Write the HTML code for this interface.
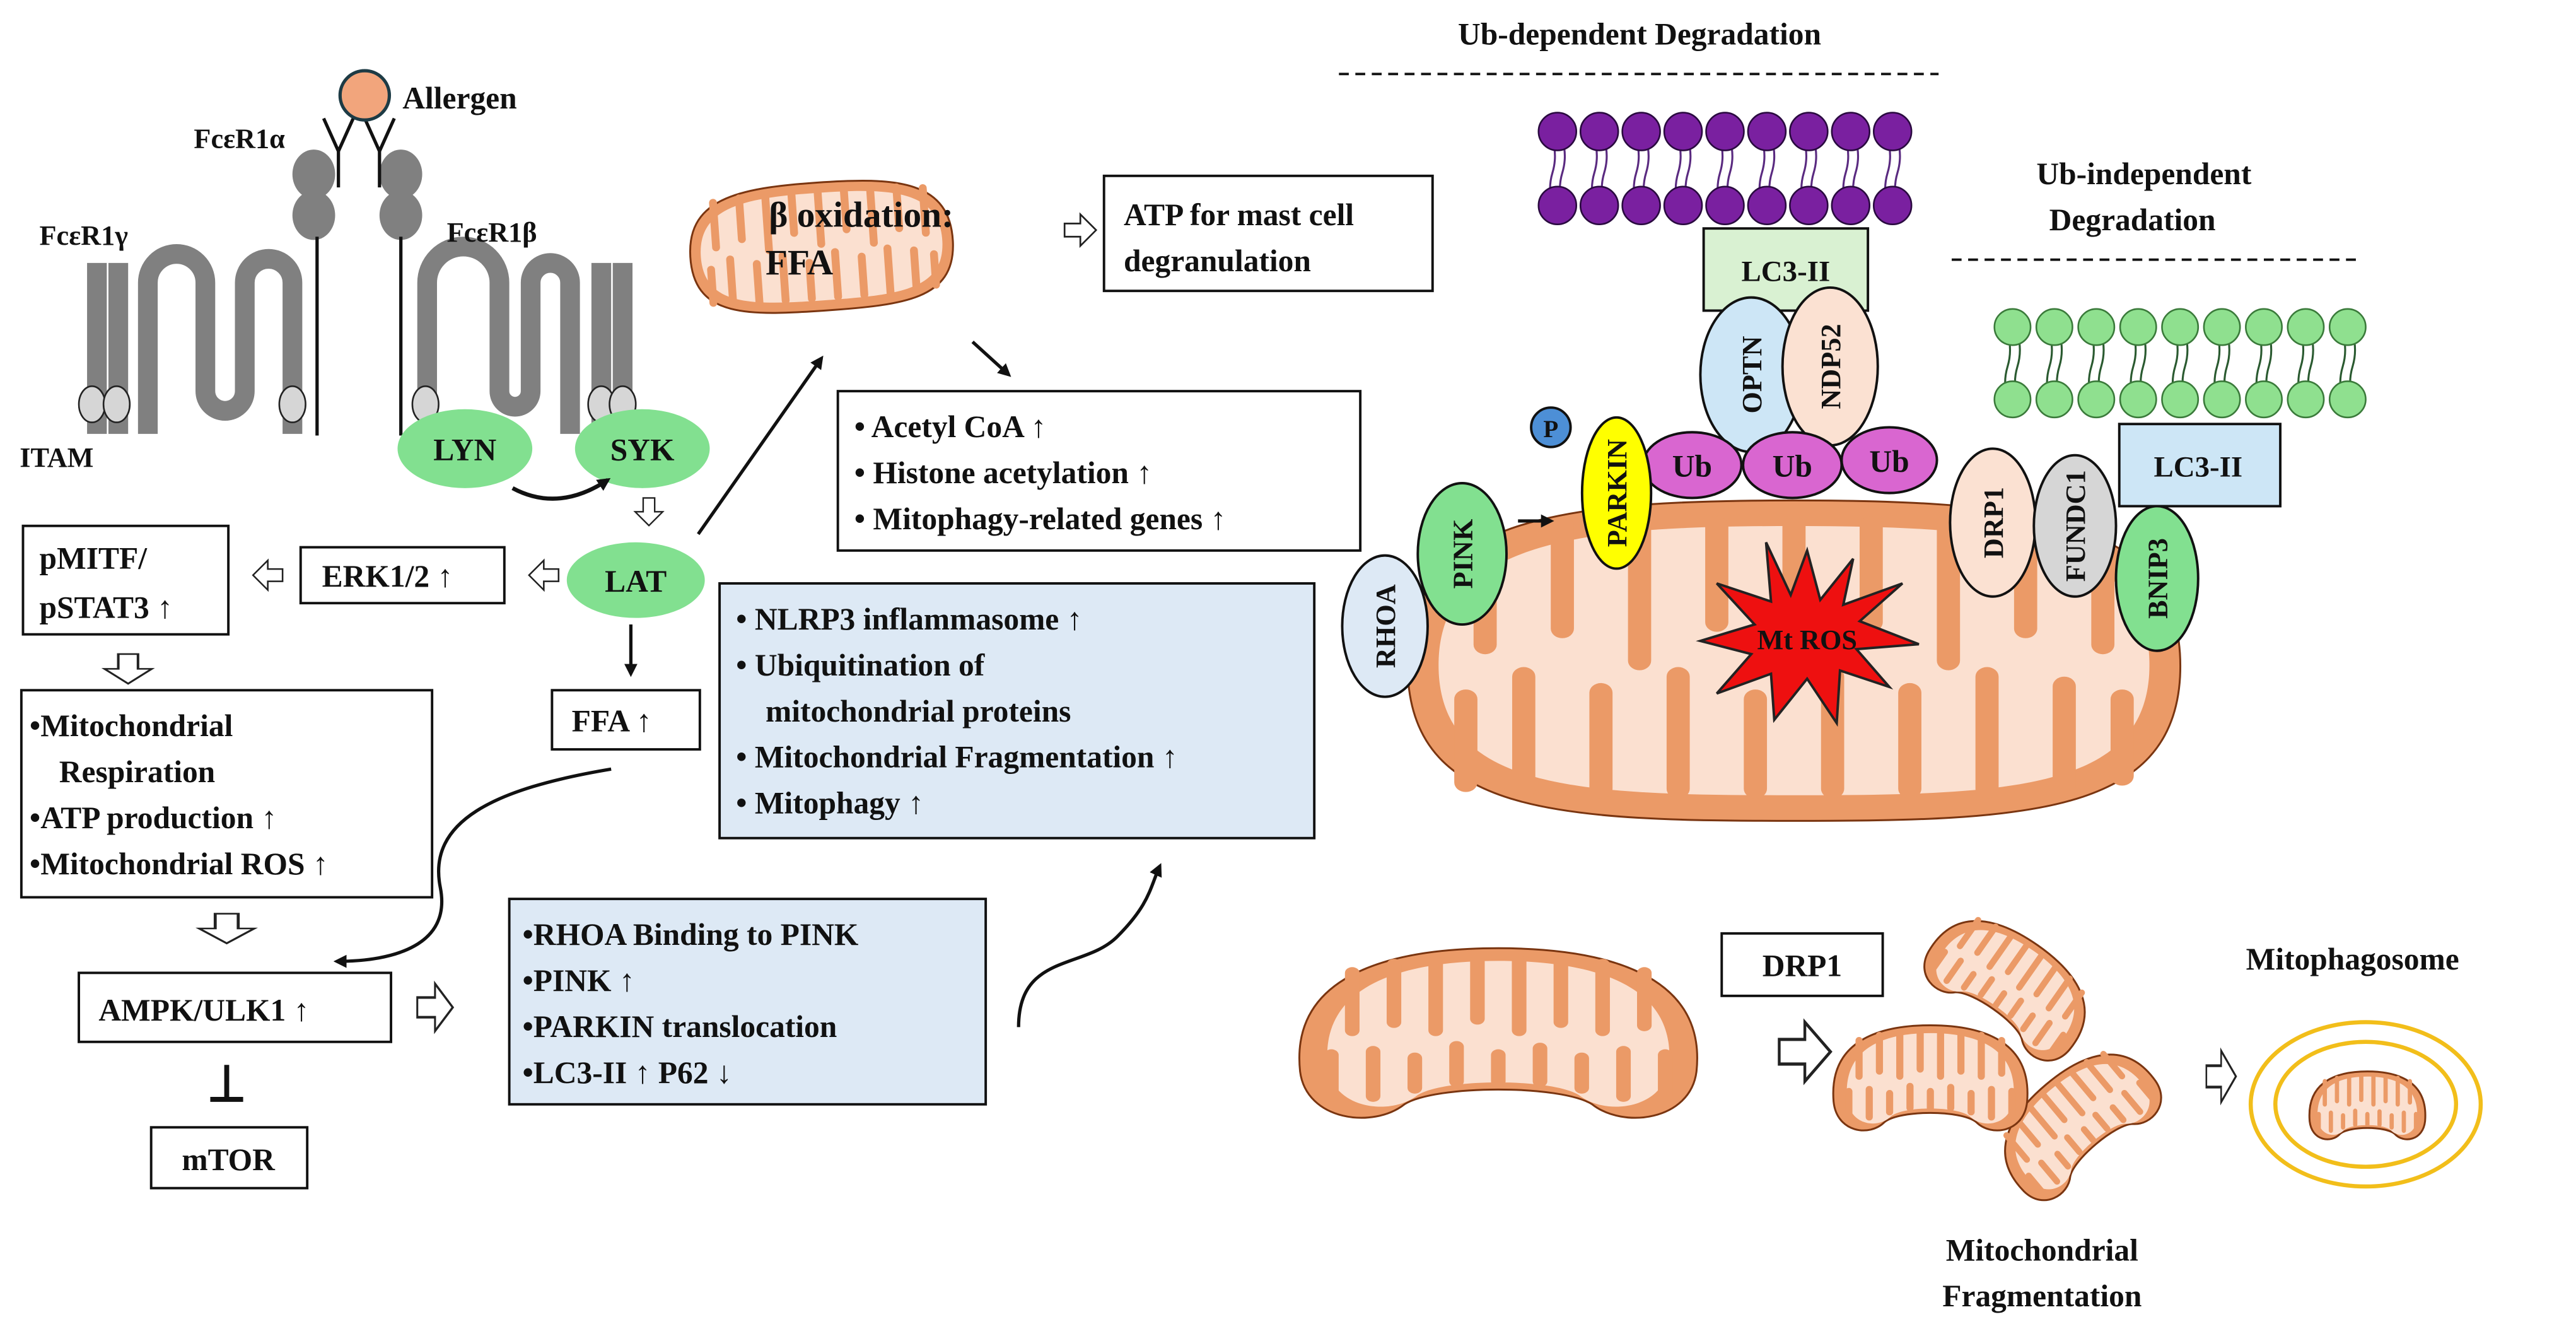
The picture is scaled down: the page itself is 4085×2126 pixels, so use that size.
<!DOCTYPE html>
<html><head><meta charset="utf-8"><style>
html,body{margin:0;padding:0;background:#fff}
svg{display:block}
text{font-family:"Liberation Serif",serif;font-weight:bold;fill:#111}
</style></head><body>
<svg width="4085" height="2126" viewBox="0 0 1568 816" xmlns="http://www.w3.org/2000/svg">
<defs>
<marker id="ah" markerWidth="8" markerHeight="8" refX="6" refY="4" orient="auto" markerUnits="userSpaceOnUse"><path d="M0,0 L8,4 L0,8 Z" fill="#111"/></marker>
<g id="kid">
<path d="M-95,20 C-100,-40 -50,-55 0,-55 C50,-55 100,-40 95,20 C92,50 60,55 45,40 C30,28 -30,28 -45,40 C-60,55 -92,50 -95,20 Z" fill="#eb9a67" stroke="#7a3510" stroke-width="3" vector-effect="non-scaling-stroke"/>
<path transform="scale(0.86)" d="M-95,20 C-100,-40 -50,-55 0,-55 C50,-55 100,-40 95,20 C92,50 60,55 45,40 C30,28 -30,28 -45,40 C-60,55 -92,50 -95,20 Z" fill="#fbe0d0"/>
<g stroke="#eb9a67" stroke-width="7" stroke-linecap="round">
<path d="M-70,-40V-5M-50,-45V-10M-30,-47V-5M-10,-47V-12M10,-47V-5M30,-47V-10M50,-45V-5M70,-40V-8"/>
<path d="M-80,35V10M-60,35V8M-40,30V12M-20,26V5M0,26V10M20,26V6M40,30V12M60,35V8M80,35V10"/>
</g>
</g>
<g id="oval">
<path d="M-100,5 C-102,-45 -60,-50 0,-50 C60,-50 102,-45 100,5 C98,48 60,50 0,50 C-60,50 -98,48 -100,5 Z" fill="#eb9a67" stroke="#7a3510" stroke-width="3" vector-effect="non-scaling-stroke"/>
<path transform="scale(0.92,0.84)" d="M-100,5 C-102,-45 -60,-50 0,-50 C60,-50 102,-45 100,5 C98,48 60,50 0,50 C-60,50 -98,48 -100,5 Z" fill="#fbe0d0"/>
<g stroke="#eb9a67" stroke-width="6" stroke-linecap="round">
<path d="M-80,-40V-5M-60,-42V-10M-40,-42V0M-20,-42V-12M0,-42V-2M20,-42V-12M40,-42V0M60,-42V-10M80,-40V-5"/>
<path d="M-85,38V12M-70,40V5M-50,40V10M-30,40V5M-10,40V12M10,40V5M30,40V10M50,40V5M70,40V8M85,36V12"/>
</g>
</g>
<polygon id="har" points="0,-5 12,-5 12,-12 24,0 12,12 12,5 0,5" fill="#fff" stroke="#222" stroke-width="1.3"/>
</defs>

<!-- Receptor -->
<g stroke="#808080" stroke-width="12" fill="none">
<path d="M59,160V264M72,160V264"/>
<path d="M90,264V172A17.5,17.5 0 0 1 125,172V238A12,12 0 0 0 149,238V172A14.5,14.5 0 0 1 178,172V264"/>
<path d="M260,252V172A22,22 0 0 1 304,172V238A9.5,9.5 0 0 0 323,238V172A12,12 0 0 1 347,172V264"/>
<path d="M366,160V264M379,160V264"/>
</g>
<g fill="#808080">
<ellipse cx="191" cy="106" rx="13" ry="15"/><ellipse cx="191" cy="131" rx="13" ry="15"/>
<ellipse cx="244" cy="106" rx="13" ry="15"/><ellipse cx="244" cy="131" rx="13" ry="15"/>
</g>
<g stroke="#111" stroke-width="2" fill="none">
<path d="M193,144V265M244,144V265"/>
<path d="M206,114V92L197,72M206,92L215,72M231,114V92L222,72M231,92L240,72"/>
</g>
<circle cx="222" cy="58" r="15" fill="#f2a57c" stroke="#1d3b45" stroke-width="2"/>
<text x="245" y="66" font-size="19">Allergen</text>
<text x="118" y="90" font-size="17">FcεR1α</text>
<text x="24" y="149" font-size="17">FcεR1γ</text>
<text x="272" y="147" font-size="17">FcεR1β</text>
<g fill="#d6d6d6" stroke="#222" stroke-width="1">
<ellipse cx="56" cy="246" rx="8" ry="11"/><ellipse cx="71" cy="246" rx="8" ry="11"/>
<ellipse cx="178" cy="246" rx="8" ry="11"/><ellipse cx="259" cy="246" rx="8" ry="11"/>
<ellipse cx="366" cy="246" rx="8" ry="11"/><ellipse cx="379" cy="246" rx="8" ry="11"/>
</g>
<text x="12" y="284" font-size="17">ITAM</text>
<ellipse cx="283" cy="273" rx="41" ry="24" fill="#82e090"/>
<ellipse cx="391" cy="273" rx="41" ry="24" fill="#82e090"/>
<text x="283" y="280" font-size="19" text-anchor="middle">LYN</text>
<text x="391" y="280" font-size="19" text-anchor="middle">SYK</text>
<path d="M312,297 Q340,312 370,292" stroke="#111" stroke-width="2.5" fill="none" marker-end="url(#ah)"/>
<use href="#har" transform="translate(395,303) rotate(90) scale(0.7)"/>
<ellipse cx="387" cy="353" rx="42" ry="23" fill="#82e090"/>
<text x="387" y="360" font-size="19" text-anchor="middle">LAT</text>

<!-- left boxes -->
<g fill="#fff" stroke="#111" stroke-width="1.5">
<rect x="183" y="333" width="124" height="34"/>
<rect x="14" y="320" width="125" height="66"/>
<rect x="13" y="420" width="250" height="126"/>
<rect x="48" y="592" width="190" height="42"/>
<rect x="92" y="686" width="95" height="37"/>
<rect x="336" y="420" width="90" height="36"/>
<rect x="672" y="107" width="200" height="70"/>
<rect x="510" y="238" width="318" height="97"/>
<rect x="1048" y="568" width="98" height="38"/>
</g>
<g fill="#dde9f5" stroke="#111" stroke-width="1.5">
<rect x="438" y="355" width="362" height="155"/>
<rect x="310" y="547" width="290" height="125"/>
</g>
<text x="196" y="357" font-size="19">ERK1/2 ↑</text>
<text x="24" y="346" font-size="19">pMITF/</text>
<text x="24" y="376" font-size="19">pSTAT3 ↑</text>
<use href="#har" transform="translate(340,350) rotate(180) scale(0.75)"/>
<use href="#har" transform="translate(172,350) rotate(180) scale(0.75)"/>
<use href="#har" transform="translate(78,398) rotate(90) scale(0.75,1.2)"/>
<text font-size="19"><tspan x="18" y="448">•Mitochondrial</tspan><tspan x="36" y="476">Respiration</tspan><tspan x="18" y="504">•ATP production ↑</tspan><tspan x="18" y="532">•Mitochondrial ROS ↑</tspan></text>
<use href="#har" transform="translate(138,556) rotate(90) scale(0.75,1.4)"/>
<text x="60" y="621" font-size="19">AMPK/ULK1 ↑</text>
<use href="#har" transform="translate(254,613) scale(0.9,1.2)"/>
<path d="M138,648V668M128,669H148" stroke="#111" stroke-width="3"/>
<text x="139" y="712" font-size="19" text-anchor="middle">mTOR</text>
<path d="M384,380V410" stroke="#111" stroke-width="2" marker-end="url(#ah)"/>
<text x="348" y="445" font-size="19">FFA ↑</text>
<path d="M372,468 C300,480 260,500 268,540 C275,575 240,585 205,585" stroke="#111" stroke-width="2" fill="none" marker-end="url(#ah)"/>
<path d="M425,325L500,218" stroke="#111" stroke-width="2" fill="none" marker-end="url(#ah)"/>

<!-- top mito -->
<use href="#oval" transform="translate(500,150) rotate(-4) scale(0.8,0.78)"/>
<text x="468" y="138" font-size="22">β oxidation:</text>
<text x="466" y="167" font-size="22">FFA</text>
<use href="#har" transform="translate(648,140) scale(0.8)"/>
<text font-size="19"><tspan x="684" y="137">ATP for mast cell</tspan><tspan x="684" y="165">degranulation</tspan></text>
<path d="M592,208L614,228" stroke="#111" stroke-width="2" marker-end="url(#ah)"/>
<text font-size="19"><tspan x="520" y="266">• Acetyl CoA ↑</tspan><tspan x="520" y="294">• Histone acetylation ↑</tspan><tspan x="520" y="322">• Mitophagy-related genes ↑</tspan></text>
<text font-size="19"><tspan x="448" y="383">• NLRP3 inflammasome ↑</tspan><tspan x="448" y="411">• Ubiquitination of</tspan><tspan x="466" y="439">mitochondrial proteins</tspan><tspan x="448" y="467">• Mitochondrial Fragmentation ↑</tspan><tspan x="448" y="495">• Mitophagy ↑</tspan></text>
<text font-size="19"><tspan x="318" y="575">•RHOA Binding to PINK</tspan><tspan x="318" y="603">•PINK ↑</tspan><tspan x="318" y="631">•PARKIN translocation</tspan><tspan x="318" y="659">•LC3-II ↑ P62 ↓</tspan></text>
<path d="M620,625 C620,580 660,590 680,570 C700,550 700,540 706,527" stroke="#111" stroke-width="2" fill="none" marker-end="url(#ah)"/>

<!-- right top -->
<text x="998" y="27" font-size="19" text-anchor="middle">Ub-dependent Degradation</text>
<path d="M815,45H1180" stroke="#111" stroke-width="1.5" stroke-dasharray="6,4"/>
<g stroke="#3a1a55" stroke-width="1.2">
<g id="pt"><path d="M945,85 q3,10 0,20 q-3,10 0,20 M951,85 q3,10 0,20 q-3,10 0,20" fill="none" stroke="#5a2a80"/></g>
<use href="#pt" x="25.5"/><use href="#pt" x="51"/><use href="#pt" x="76.5"/><use href="#pt" x="102"/><use href="#pt" x="127.5"/><use href="#pt" x="153"/><use href="#pt" x="178.5"/><use href="#pt" x="204"/>
</g>
<g fill="#7a20a0" stroke="#2a0a40" stroke-width="1">
<g id="pc"><circle cx="948" cy="80" r="11.5"/><circle cx="948" cy="125" r="11.5"/></g>
<use href="#pc" x="25.5"/><use href="#pc" x="51"/><use href="#pc" x="76.5"/><use href="#pc" x="102"/><use href="#pc" x="127.5"/><use href="#pc" x="153"/><use href="#pc" x="178.5"/><use href="#pc" x="204"/>
</g>
<rect x="1037" y="139" width="100" height="50" fill="#d9f1d2" stroke="#111" stroke-width="1.5"/>
<text x="1087" y="171" font-size="18" text-anchor="middle">LC3-II</text>

<text x="1305" y="112" font-size="19" text-anchor="middle">Ub-independent</text>
<text x="1298" y="140" font-size="19" text-anchor="middle">Degradation</text>
<path d="M1188,158H1437" stroke="#111" stroke-width="1.5" stroke-dasharray="6,4"/>
<g>
<g id="gt"><path d="M1222,203 q3,10 0,20 q-3,10 0,20 M1228,203 q3,10 0,20 q-3,10 0,20" fill="none" stroke="#2a5a30" stroke-width="1.2"/></g>
<use href="#gt" x="25.5"/><use href="#gt" x="51"/><use href="#gt" x="76.5"/><use href="#gt" x="102"/><use href="#gt" x="127.5"/><use href="#gt" x="153"/><use href="#gt" x="178.5"/><use href="#gt" x="204"/>
</g>
<g fill="#8fe08f" stroke="#3a7a3a" stroke-width="1">
<g id="gc"><circle cx="1225" cy="199" r="11"/><circle cx="1225" cy="243" r="11"/></g>
<use href="#gc" x="25.5"/><use href="#gc" x="51"/><use href="#gc" x="76.5"/><use href="#gc" x="102"/><use href="#gc" x="127.5"/><use href="#gc" x="153"/><use href="#gc" x="178.5"/><use href="#gc" x="204"/>
</g>

<!-- big mito -->
<use href="#oval" transform="translate(1092,402) scale(2.35,1.95)"/>
<polygon points="1100,335 1108,365 1128,340 1122,368 1158,355 1132,378 1168,392 1130,395 1150,418 1120,408 1118,440 1100,413 1080,438 1078,410 1045,422 1066,398 1035,390 1068,380 1045,355 1078,366 1075,330 1090,362" fill="#ee1010" stroke="#222" stroke-width="1.5"/>
<text x="1100" y="395" font-size="17" text-anchor="middle">Mt ROS</text>

<g stroke="#111" stroke-width="1.5">
<ellipse cx="1066" cy="228" rx="31" ry="47" fill="#cde6f6"/>
<ellipse cx="1114" cy="223" rx="29" ry="48" fill="#fbe1d2"/>
<ellipse cx="1030" cy="283" rx="30" ry="20" fill="#d966d0"/>
<ellipse cx="1091" cy="283" rx="30" ry="20" fill="#d966d0"/>
<ellipse cx="1150" cy="280" rx="29" ry="20" fill="#d966d0"/>
<circle cx="944" cy="260" r="12" fill="#4d8fd6"/>
<ellipse cx="984" cy="300" rx="21" ry="46" fill="#ffff00"/>
<ellipse cx="890" cy="337" rx="27" ry="43" fill="#82e090"/>
<ellipse cx="843" cy="381" rx="26" ry="43" fill="#dde9f5"/>
<ellipse cx="1213" cy="318" rx="26" ry="45" fill="#fbe1d2"/>
<rect x="1290" y="258" width="98" height="50" fill="#cde6f6"/>
<ellipse cx="1263" cy="320" rx="25" ry="43" fill="#d6d6d6"/>
<ellipse cx="1313" cy="352" rx="25" ry="44" fill="#82e090"/>
</g>
<text x="944" y="266" font-size="15" text-anchor="middle">P</text>
<text x="1030" y="290" font-size="19" text-anchor="middle">Ub</text>
<text x="1091" y="290" font-size="19" text-anchor="middle">Ub</text>
<text x="1150" y="287" font-size="19" text-anchor="middle">Ub</text>
<text x="1338" y="290" font-size="18" text-anchor="middle">LC3-II</text>
<g font-size="17" text-anchor="middle">
<text transform="translate(1072,228) rotate(-90)">OPTN</text>
<text transform="translate(1120,223) rotate(-90)">NDP52</text>
<text transform="translate(990,300) rotate(-90)">PARKIN</text>
<text transform="translate(896,337) rotate(-90)">PINK</text>
<text transform="translate(849,381) rotate(-90)">RHOA</text>
<text transform="translate(1219,318) rotate(-90)">DRP1</text>
<text transform="translate(1269,320) rotate(-90)">FUNDC1</text>
<text transform="translate(1319,352) rotate(-90)">BNIP3</text>
</g>
<path d="M924,317H944" stroke="#111" stroke-width="2" marker-end="url(#ah)"/>

<!-- bottom -->
<use href="#kid" transform="translate(912,632) scale(1.27,1.0)"/>
<text x="1097" y="594" font-size="19" text-anchor="middle">DRP1</text>
<use href="#har" transform="translate(1083,640) scale(1.3,1.5)"/>
<use href="#kid" transform="translate(1223,600) rotate(35) scale(0.55,0.55)"/>
<use href="#kid" transform="translate(1265,683) rotate(-40) scale(0.55,0.55)"/>
<use href="#kid" transform="translate(1175,658) scale(0.62,0.62)"/>
<text x="1243" y="767" font-size="19" text-anchor="middle">Mitochondrial</text>
<text x="1243" y="795" font-size="19" text-anchor="middle">Fragmentation</text>
<use href="#har" transform="translate(1343,655) scale(0.75,1.3)"/>
<text x="1432" y="590" font-size="19" text-anchor="middle">Mitophagosome</text>
<ellipse cx="1440" cy="672" rx="70" ry="50" fill="none" stroke="#f2be1a" stroke-width="2.5"/>
<ellipse cx="1440" cy="672" rx="55" ry="38" fill="none" stroke="#f2be1a" stroke-width="2.5"/>
<use href="#kid" transform="translate(1441,674) scale(0.37,0.4)"/>
</svg>
</body></html>
